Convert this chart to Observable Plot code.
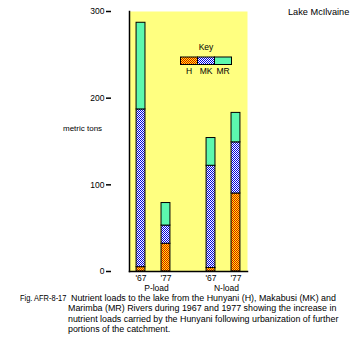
<!DOCTYPE html>
<html>
<head>
<meta charset="utf-8">
<script src="https://cdn.jsdelivr.net/npm/d3@7"></script>
<script src="https://cdn.jsdelivr.net/npm/@observablehq/plot@0.6"></script>
<style>
  body { margin: 0; background: #fff; }
  #wrap { position: relative; width: 361px; height: 352px; font-family: "Liberation Sans", Arial, sans-serif; color: #000; }
  .abs { position: absolute; white-space: nowrap; line-height: 1; }
  #caption { position: absolute; top: 293px; left: 0; width: 361px; font-size: 8.9px; line-height: 10.3px; }
  #caption .lab { position: absolute; left: 20px; top: 0; white-space: nowrap; transform-origin: 0 50%; transform: scaleX(0.84); }
  #caption .body { position: absolute; left: 68px; top: 0; text-indent: 3px; white-space: nowrap; }
</style>
</head>
<body>
<svg width="0" height="0" style="position:absolute">
  <defs>
    <pattern id="bgpat" width="2" height="2" patternUnits="userSpaceOnUse">
      <rect width="2" height="2" fill="#ffffff"/>
      <rect width="1" height="1" fill="#ffff00"/>
      <rect x="1" y="1" width="1" height="1" fill="#ffff00"/>
    </pattern>
    <pattern id="hpat" width="2" height="2" patternUnits="userSpaceOnUse">
      <rect width="2" height="2" fill="#ffff00"/>
      <rect width="1" height="1" fill="#e00000"/>
      <rect x="1" y="1" width="1" height="1" fill="#e00000"/>
    </pattern>
    <pattern id="mkpat" width="2" height="2" patternUnits="userSpaceOnUse">
      <rect width="2" height="2" fill="#ffffff"/>
      <rect width="1" height="1" fill="#0000e0"/>
      <rect x="1" y="1" width="1" height="1" fill="#0000e0"/>
    </pattern>
  </defs>
</svg>
<div id="wrap">
  <div id="chart"></div>
  <div class="abs" style="left:288px; top:8px; font-size:9.2px;">Lake McIlvaine</div>
  <div class="abs" style="left:63px; top:125px; font-size:8px;">metric tons</div>
  <svg id="legend" width="361" height="90" style="position:absolute; left:0; top:0; pointer-events:none"></svg>
  <div id="caption">
    <div class="lab">Fig. AFR-8-17</div>
    <div class="body">Nutrient loads to the lake from the Hunyani (H), Makabusi (MK) and<br>Marimba (MR) Rivers during 1967 and 1977 showing the increase in<br>nutrient loads carried by the Hunyani following urbanization of further<br>portions of the catchment.</div>
  </div>
</div>
<script>
// ---- data ----
const groups = ["P-load", "N-load"];
const years = ["'67", "'77"];
const rivers = ["H", "MK", "MR"];
// order of bars: P '67, P '77, N '67, N '77
const hValues  = [5, 32, 4, 90];
const mkValues = [182, 21, 118, 59];
const mrValues = [100, 26, 32, 34];
const yTicks = [0, 100, 200, 300];
const riverFills = ["url(#hpat)", "url(#mkpat)", "#5cf8ae"];

const rows = [];
hValues.forEach((_, i) => {
  const group = groups[Math.floor(i / 2)];
  const year = years[i % 2];
  rows.push({group, year, river: "H", value: hValues[i]});
  rows.push({group, year, river: "MK", value: mkValues[i]});
  rows.push({group, year, river: "MR", value: mrValues[i]});
});

const font = '"Liberation Sans", Arial, sans-serif';
const W = 361, mL = 111, mR = 95;
const fxOpts = {paddingInner: 22 / 70, paddingOuter: 18.5 / 70, align: 18 / 37};
// offset of the first facet from the plot's left edge (so the y axis sits on the frame)
const fxBand = d3.scaleBand().domain(groups).range([mL, W - mR])
  .paddingInner(fxOpts.paddingInner).paddingOuter(fxOpts.paddingOuter).align(fxOpts.align);
const facetOffset = fxBand(groups[0]) - mL;

const chart = Plot.plot({
  width: W,
  height: 293,
  marginLeft: mL,
  marginRight: mR,
  marginTop: 11,
  marginBottom: 22,
  style: {fontFamily: font, fontSize: "8.5px", background: "transparent", color: "#000"},
  fx: {domain: groups, ...fxOpts, round: false, axis: null},
  x: {domain: years, paddingInner: 0.643, paddingOuter: 0.283, round: false},
  y: {domain: [0, 300]},
  color: {domain: rivers, range: riverFills},
  marks: [
    Plot.frame({facet: "super", fill: "url(#bgpat)", stroke: null}),
    Plot.barY(rows, Plot.stackY({fx: "group", x: "year", y: "value", fill: "river", stroke: "#000", strokeWidth: 1})),
    Plot.frame({facet: "super", anchor: "left", stroke: "#000", strokeWidth: 1.5}),
    Plot.frame({facet: "super", anchor: "bottom", stroke: "#000", strokeWidth: 1.5}),
    Plot.axisY({ticks: yTicks, tickSize: 5, tickPadding: 2, tickFormat: d => d, label: null, strokeWidth: 1.5, dx: -facetOffset}),
    Plot.axisX({tickSize: 0, tickPadding: 3, label: null}),
    Plot.text(groups, {fx: d => d, text: d => d, frameAnchor: "bottom", lineAnchor: "middle", dy: 17, dx: 3})
  ]
});
document.getElementById("chart").appendChild(chart);

// ---- legend ----
const lg = d3.select("#legend");
lg.append("text").attr("x", 206).attr("y", 48).attr("text-anchor", "middle").attr("dominant-baseline", "middle")
  .attr("font-family", font).attr("font-size", "8.5px").text("Key");
const lx = d3.scaleBand().domain(rivers).range([180.5, 231.5]);
lg.selectAll("rect.k").data(rivers).join("rect")
  .attr("x", d => lx(d)).attr("y", 57).attr("width", lx.bandwidth()).attr("height", 7.5)
  .attr("fill", (d, i) => riverFills[i]).attr("stroke", "#000").attr("stroke-width", 1);
lg.selectAll("text.k").data(rivers).join("text")
  .attr("x", d => lx(d) + lx.bandwidth() / 2).attr("y", 72).attr("text-anchor", "middle").attr("dominant-baseline", "middle")
  .attr("font-family", font).attr("font-size", "8.5px").text(d => d);
</script>
</body>
</html>
